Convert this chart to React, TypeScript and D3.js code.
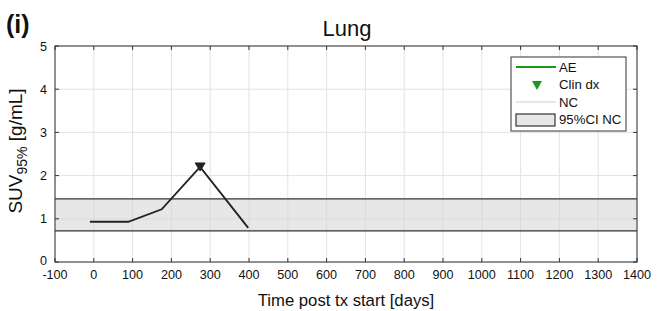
import React from "react";
import * as d3 from "d3";

const days = [-10, 89, 175, 274, 398];
const suv = [0.93, 0.93, 1.22, 2.2, 0.79];
const clinDxDay = [274];
const clinDxSuv = [2.2];
const ciLower = [0.72];
const ciUpper = [1.46];
const xTicks = [-100, 0, 100, 200, 300, 400, 500, 600, 700, 800, 900, 1000, 1100, 1200, 1300, 1400];
const yTicks = [0, 1, 2, 3, 4, 5];
const legendLabels = ["AE", "Clin dx", "NC", "95%CI NC"];

const W = 660, H = 311;
const L = 55, R = 637, T = 46, B = 262;

export default function App() {
  const x = d3.scaleLinear().domain([-100, 1400]).range([L, R]);
  const y = d3.scaleLinear().domain([0, 5]).range([B, T]);
  const line = d3.line<number>().x((_, i) => x(days[i])).y((d) => y(d));
  const font = "'Liberation Sans', Arial, sans-serif";
  const lx = 511, ly = 57, lw = 115, lh = 74;
  return (
    <svg width={W} height={H} style={{ position: "absolute", left: 0, top: 0, background: "#fff" }} fontFamily={font}>
      <rect x={0} y={0} width={W} height={H} fill="#fff" />
      {/* grid */}
      {xTicks.map((t) => (
        <line key={"gx" + t} x1={x(t)} x2={x(t)} y1={T} y2={B} stroke="#e3e3e3" strokeWidth={1} />
      ))}
      {yTicks.map((t) => (
        <line key={"gy" + t} x1={L} x2={R} y1={y(t)} y2={y(t)} stroke="#e3e3e3" strokeWidth={1} />
      ))}
      {/* CI band */}
      <rect x={L} width={R - L} y={y(ciUpper[0])} height={y(ciLower[0]) - y(ciUpper[0])} fill="#d4d4d4" fillOpacity={0.55} />
      <line x1={L} x2={R} y1={y(ciUpper[0])} y2={y(ciUpper[0])} stroke="#333" strokeWidth={1.2} />
      <line x1={L} x2={R} y1={y(ciLower[0])} y2={y(ciLower[0])} stroke="#333" strokeWidth={1.2} />
      {/* data line */}
      <path d={line(suv) || ""} fill="none" stroke="#222" strokeWidth={1.9} />
      {clinDxDay.map((d, i) => {
        const cx = x(d), cy = y(clinDxSuv[i]);
        return <path key={"m" + i} d={`M${cx - 5},${cy - 4} L${cx + 5},${cy - 4} L${cx},${cy + 4} Z`} fill="#222" stroke="#222" />;
      })}
      {/* axes box */}
      <rect x={L} y={T} width={R - L} height={B - T} fill="none" stroke="#333" strokeWidth={1} />
      {xTicks.map((t) => (
        <g key={"tx" + t}>
          <line x1={x(t)} x2={x(t)} y1={B} y2={B - 4} stroke="#333" />
          <line x1={x(t)} x2={x(t)} y1={T} y2={T + 4} stroke="#333" />
          <text x={x(t)} y={B + 16.5} textAnchor="middle" fontSize={12.6} fill="#111">{t}</text>
        </g>
      ))}
      {yTicks.map((t) => (
        <g key={"ty" + t}>
          <line x1={L} x2={L + 4} y1={y(t)} y2={y(t)} stroke="#333" />
          <line x1={R} x2={R - 4} y1={y(t)} y2={y(t)} stroke="#333" />
          <text x={L - 8} y={y(t) + (t === 0 ? 3 : 4.5)} textAnchor="end" fontSize={12.6} fill="#111">{t}</text>
        </g>
      ))}
      {/* title */}
      <text x={347} y={36} textAnchor="middle" fontSize={22} fill="#111">Lung</text>
      <text x={6} y={33} fontSize={25} fontWeight="bold" fill="#111">(i)</text>
      {/* axis labels */}
      <text x={(L + R) / 2} y={306} textAnchor="middle" fontSize={16.7} fill="#111">Time post tx start [days]</text>
      <text transform={`translate(22, 151) rotate(-90)`} textAnchor="middle" fontSize={19} fill="#111">
        SUV<tspan dy={5} fontSize={14}>95%</tspan><tspan dy={-5}> [g/mL]</tspan>
      </text>
      {/* legend */}
      <rect x={lx} y={ly} width={lw} height={lh} fill="#fff" stroke="#333" strokeWidth={1} />
      <line x1={lx + 5} x2={lx + 45} y1={ly + 10} y2={ly + 10} stroke="#1a9a1a" strokeWidth={2} />
      <path d={`M${lx + 21},${ly + 24} L${lx + 31},${ly + 24} L${lx + 26},${ly + 33} Z`} fill="#1a9a1a" />
      <line x1={lx + 5} x2={lx + 45} y1={ly + 45} y2={ly + 45} stroke="#cfcfcf" strokeWidth={1} />
      <rect x={lx + 5} y={ly + 57} width={39} height={12} fill="#e6e6e6" stroke="#333" strokeWidth={1.2} />
      {legendLabels.map((s, i) => (
        <text key={s} x={lx + 48} y={ly + 14.5 + i * 17.5} fontSize={13.2} fill="#111">{s}</text>
      ))}
    </svg>
  );
}
